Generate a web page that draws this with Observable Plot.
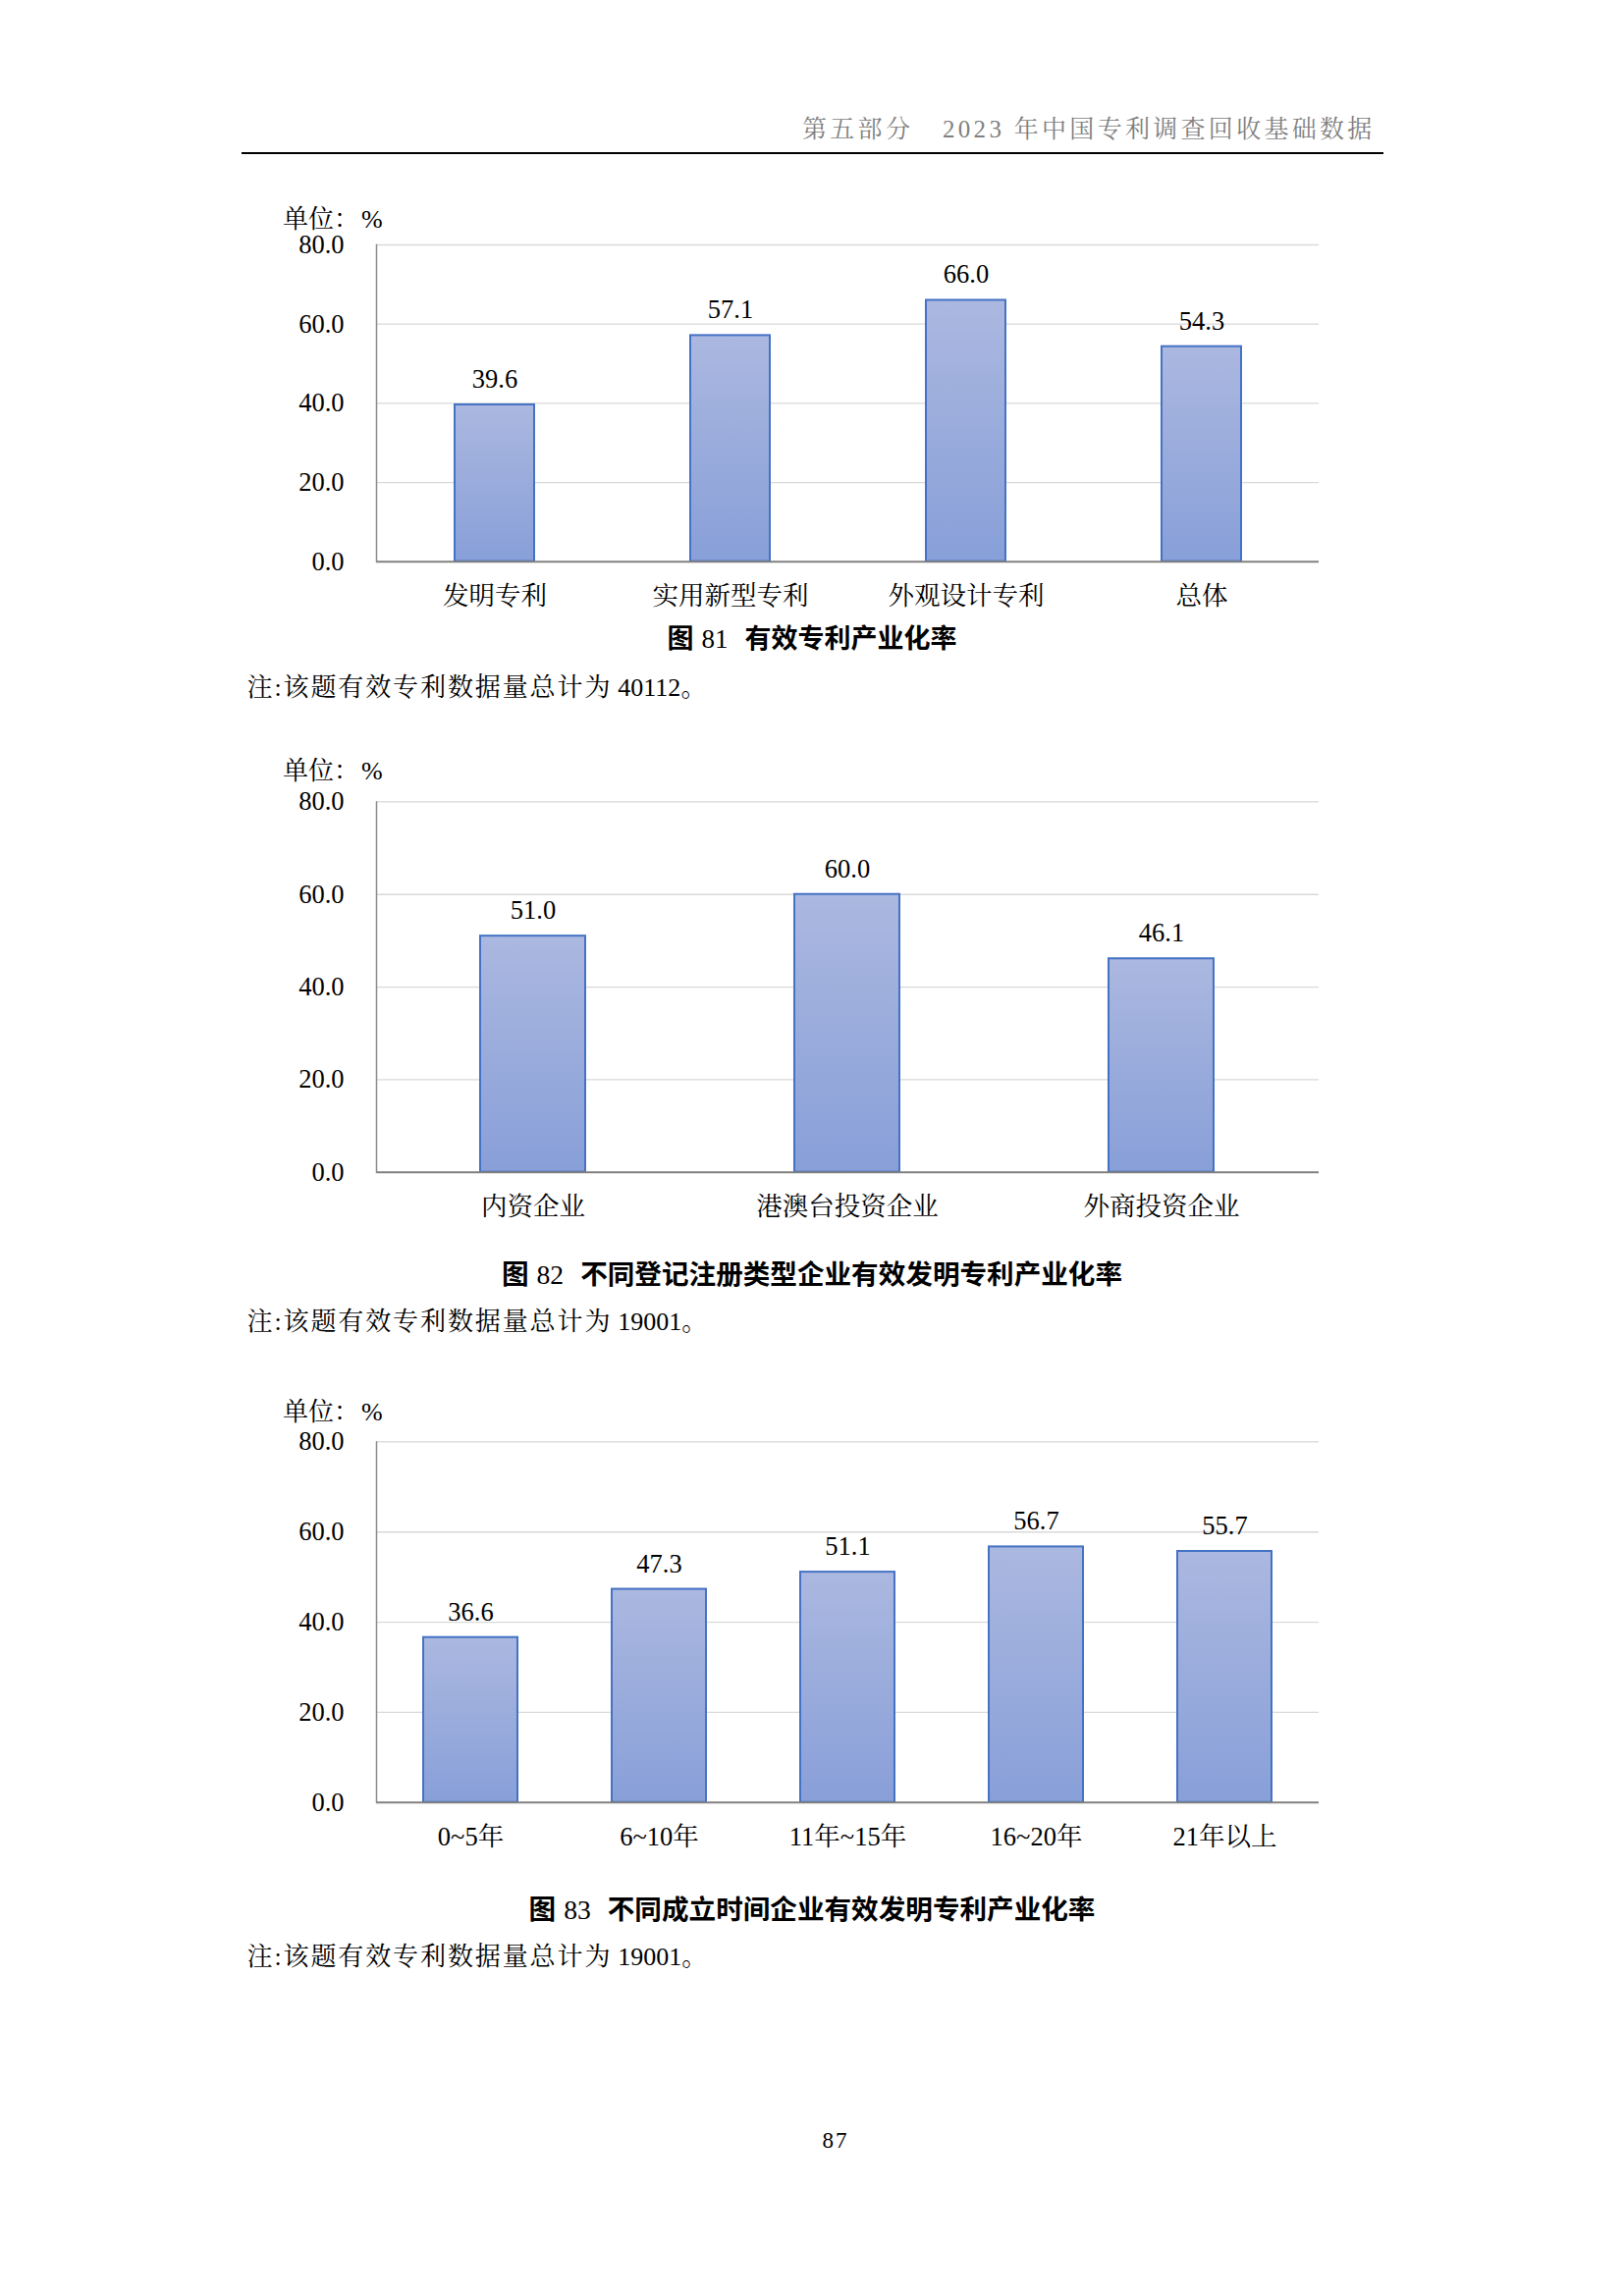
<!DOCTYPE html>
<html>
<head>
<meta charset="utf-8">
<script src="https://cdn.jsdelivr.net/npm/d3@7"></script>
<script src="https://cdn.jsdelivr.net/npm/@observablehq/plot@0.6"></script>
<style>
  html, body { margin: 0; padding: 0; background: #fff; }
  #page { position: relative; width: 1654px; height: 2339px; background: #fff; overflow: hidden; }
  #page > svg { position: absolute; left: 0; }
</style>
</head>
<body>
<div id="page"></div>
<script>
// ---------- data ----------
const yTicks = [0, 20, 40, 60, 80];

const cats1 = ["发明专利", "实用新型专利", "外观设计专利", "总体"];
const vals1 = [39.6, 57.1, 66.0, 54.3];

const cats2 = ["内资企业", "港澳台投资企业", "外商投资企业"];
const vals2 = [51.0, 60.0, 46.1];

const cats3 = ["0~5年", "6~10年", "11年~15年", "16~20年", "21年以上"];
const vals3 = [36.6, 47.3, 51.1, 56.7, 55.7];

const header1 = "第五部分";
const header2 = "2023 年中国专利调查回收基础数据";
const unitText = "单位：";
const titles = [
  {fig: "图", num: "81", rest: "有效专利产业化率"},
  {fig: "图", num: "82", rest: "不同登记注册类型企业有效发明专利产业化率"},
  {fig: "图", num: "83", rest: "不同成立时间企业有效发明专利产业化率"}
];
const notes = [
  {cjk: "注:该题有效专利数据量总计为", num: "40112", end: "。"},
  {cjk: "注:该题有效专利数据量总计为", num: "19001", end: "。"},
  {cjk: "注:该题有效专利数据量总计为", num: "19001", end: "。"}
];
const pageNum = "87";

// ---------- layout ----------
const page = document.getElementById("page");
const W = 1654;
const SERIF = '"Liberation Serif", "Noto Serif CJK SC", "Noto Sans CJK SC", serif';

function makeChart(cats, vals, cfg) {
  const data = cats.map((c, i) => ({cat: c, val: vals[i]}));
  const pad = 1 - cfg.barRatio;
  const svg = Plot.plot({
    width: W,
    height: cfg.height,
    marginLeft: 383,
    marginRight: W - 1343,
    marginTop: cfg.mTop,
    marginBottom: cfg.mBottom,
    style: {fontFamily: SERIF, fontSize: "26.5px", color: "#000", background: "transparent", overflow: "visible"},
    x: {domain: cats, paddingInner: pad, paddingOuter: pad / 2, label: null},
    y: {domain: [0, 80], ticks: yTicks, label: null},
    marks: [
      Plot.ruleY(yTicks.filter(d => d > 0), {stroke: "#d9d9d9", strokeWidth: 1.3}),
      Plot.barY(data, {x: "cat", y: "val", fill: `url(#${cfg.id})`, stroke: "#4472c4", strokeWidth: 2}),
      Plot.ruleY([0], {stroke: "#808080", strokeWidth: 2}),
      Plot.frame({anchor: "left", stroke: "#8a8a8a", strokeWidth: 1.5}),
      Plot.axisY({ticks: yTicks, tickSize: 0, tickPadding: 33, tickFormat: d => d.toFixed(1), label: null}),
      Plot.axisX({tickSize: 0, tickPadding: 25, label: null}),
      Plot.text(data, {x: "cat", y: "val", text: d => d.val.toFixed(1), dy: -17.5, lineAnchor: "bottom", fill: "#000"})
    ]
  });
  const defs = d3.select(svg).insert("defs", ":first-child");
  const g = defs.append("linearGradient").attr("id", cfg.id)
    .attr("x1", 0).attr("y1", 0).attr("x2", 0).attr("y2", 1);
  g.append("stop").attr("offset", "0%").attr("stop-color", "#abb8e0");
  g.append("stop").attr("offset", "100%").attr("stop-color", "#889fd8");
  svg.style.top = cfg.top + "px";
  page.appendChild(svg);
}

makeChart(cats1, vals1, {id: "g1", top: 200, height: 450, mTop: 49, mBottom: 78.3, barRatio: 0.336});
makeChart(cats2, vals2, {id: "g2", top: 780, height: 500, mTop: 36.4, mBottom: 86.3, barRatio: 0.335});
makeChart(cats3, vals3, {id: "g3", top: 1440, height: 470, mTop: 28.4, mBottom: 74.2, barRatio: 0.502});

// ---------- overlay text ----------
const ov = d3.select(page).append("svg")
  .attr("width", W).attr("height", 2339)
  .style("top", "0px").style("pointer-events", "none");

// header
ov.append("text").attr("x", 817).attr("y", 140)
  .attr("font-family", '"Noto Serif CJK SC", "Noto Sans CJK SC", sans-serif')
  .attr("font-size", 25).attr("letter-spacing", 3.3).attr("fill", "#7f7f7f")
  .text(header1);
ov.append("text").attr("x", 960).attr("y", 140)
  .attr("font-size", 25).attr("letter-spacing", 3.3).attr("fill", "#7f7f7f")
  .attr("font-family", SERIF)
  .text(header2);
ov.append("line").attr("x1", 246).attr("x2", 1409).attr("y1", 156).attr("y2", 156)
  .attr("stroke", "#000").attr("stroke-width", 2);

// unit labels
[232, 793.5, 1447.4].forEach(y => {
  const t = ov.append("text").attr("x", 288).attr("y", y).attr("font-size", 26)
    .attr("font-family", SERIF).attr("fill", "#000");
  t.append("tspan").text(unitText);
  t.append("tspan").attr("dx", 2).text("%");
});

// figure titles
const titleCfg = [{y: 660, fs: 27}, {y: 1308, fs: 27.6}, {y: 1954.5, fs: 27.6}];
titles.forEach((tt, i) => {
  const c = titleCfg[i];
  const t = ov.append("text").attr("x", 827).attr("y", c.y).attr("text-anchor", "middle")
    .attr("font-size", c.fs).attr("fill", "#000");
  t.append("tspan").attr("font-family", '"Noto Sans CJK SC", sans-serif').attr("font-weight", 700).text(tt.fig);
  t.append("tspan").attr("dx", 8).attr("font-family", SERIF).text(tt.num);
  t.append("tspan").attr("dx", 17).attr("font-family", '"Noto Sans CJK SC", sans-serif').attr("font-weight", 700).text(tt.rest);
});

// notes
[708.5, 1354.7, 2002.3].forEach((y, i) => {
  const n = notes[i];
  const t = ov.append("text").attr("x", 251.5).attr("y", y).attr("font-size", 26)
    .attr("font-family", SERIF).attr("fill", "#000");
  t.append("tspan").attr("letter-spacing", 1.9).text(n.cjk);
  t.append("tspan").attr("dx", 6).text(n.num);
  t.append("tspan").text(n.end);
});

// page number
ov.append("text").attr("x", 851).attr("y", 2187.5).attr("text-anchor", "middle")
  .attr("font-size", 23).attr("letter-spacing", 2).attr("font-family", SERIF).attr("fill", "#000")
  .text(pageNum);
</script>
</body>
</html>
